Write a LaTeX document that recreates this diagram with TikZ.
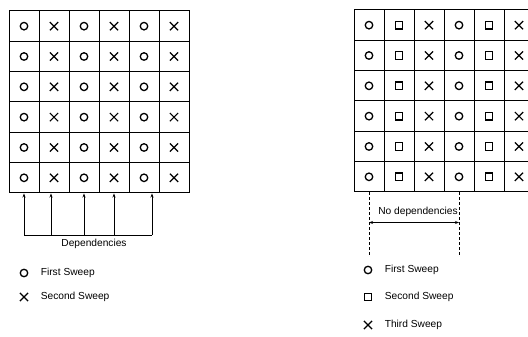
\documentclass[tikz,border=0pt]{standalone}
\usepackage{fontspec}
\setmainfont{Liberation Sans}
\usepackage{tikz}
\usetikzlibrary{shapes.misc, arrows.meta, positioning}

\begin{document}
\begin{tikzpicture}[
    x=1pt, y=-1pt,
    cell/.style={rectangle, draw=black, line width=1pt, minimum width=30pt, minimum height=30.33pt, inner sep=0pt},
    osym/.style={circle, draw=black, line width=1.3pt, minimum size=7.5pt, inner sep=0pt},
    xsym/.style={cross out, draw=black, line width=1.2pt, minimum size=7pt, inner sep=0pt},
    ssym/.style={rectangle, draw=black, line width=1.3pt, minimum size=7.5pt, inner sep=0pt},
    legtext/.style={inner sep=0pt, font=\fontsize{10.2}{12}\selectfont},
    deparrow/.style={-{Stealth[length=4pt, width=3pt]}, line width=1pt},
    dashline/.style={line width=1pt, dash pattern=on 2.5pt off 2.5pt},
    bothways/.style={{Stealth[length=4pt, width=3pt]}-{Stealth[length=4pt, width=3pt]}, line width=1pt}
]
\clip (0,0) rectangle (528,337);

% left grid: two sweeps
\foreach \r in {1,...,6} {
  \foreach \c in {1,...,6} {
    \node[cell] (L-\r-\c) at (30*\c-6, 30.33*\r-4.17) {};
  }
  \foreach \c in {1,3,5} \node[osym] at (L-\r-\c) {};
  \foreach \c in {2,4,6} \node[xsym] at (L-\r-\c) {};
}

% right grid: three sweeps
\foreach \r in {1,...,6} {
  \foreach \c in {1,...,6} {
    \node[cell] (R-\r-\c) at (339+30*\c, 30.33*\r-5.17) {};
  }
  \foreach \c in {1,4} \node[osym] at (R-\r-\c) {};
  \foreach \c in {2,5} \node[ssym] at (R-\r-\c) {};
  \foreach \c in {3,6} \node[xsym] at (R-\r-\c) {};
}

% dependencies
\coordinate (dep1) at (24,235);
\coordinate (dep2) at (51,235);
\coordinate (dep3) at (84,235);
\coordinate (dep4) at (114,235);
\coordinate (dep5) at (152,235);
\draw[line width=1pt] (dep1) -- (dep5);
\draw[deparrow] (dep1) -- (dep1 |- L-6-1.south);
\draw[deparrow] (dep2) -- (dep2 |- L-6-2.south);
\draw[deparrow] (dep3) -- (dep3 |- L-6-3.south);
\draw[deparrow] (dep4) -- (dep4 |- L-6-4.south);
\draw[deparrow] (dep5) -- (dep5 |- L-6-5.south);
\node[legtext] (deps) at (94,244) {Dependencies};

% no dependencies
\coordinate (nd1) at (R-6-1 |- 0,255);
\coordinate (nd2) at (R-6-4 |- 0,255);
\coordinate (nda) at (R-6-1 |- 0,222.5);
\coordinate (ndb) at (R-6-4 |- 0,222.5);
\draw[dashline] (R-6-1.south) -- (nd1);
\draw[dashline] (R-6-4.south) -- (nd2);
\draw[bothways] (nda) -- (ndb);
\node[legtext] (nodeps) at (418,212) {No dependencies};

% left legend
\node[osym] (lego) at (24,273) {};
\node[legtext, right=12.25pt of lego] (legfirst) {First Sweep};
\node[xsym] (legx) at (24,297) {};
\node[legtext, right=12.5pt of legx] (legsecond) {Second Sweep};

% right legend
\node[osym] (rego) at (368,270) {};
\node[legtext, right=12.25pt of rego] (regfirst) {First Sweep};
\node[ssym] (regs) at (368,297) {};
\node[legtext, right=12.25pt of regs] (regsecond) {Second Sweep};
\node[xsym] (regx) at (368,325) {};
\node[legtext, right=12.5pt of regx] (regthird) {Third Sweep};
\end{tikzpicture}
\end{document}
